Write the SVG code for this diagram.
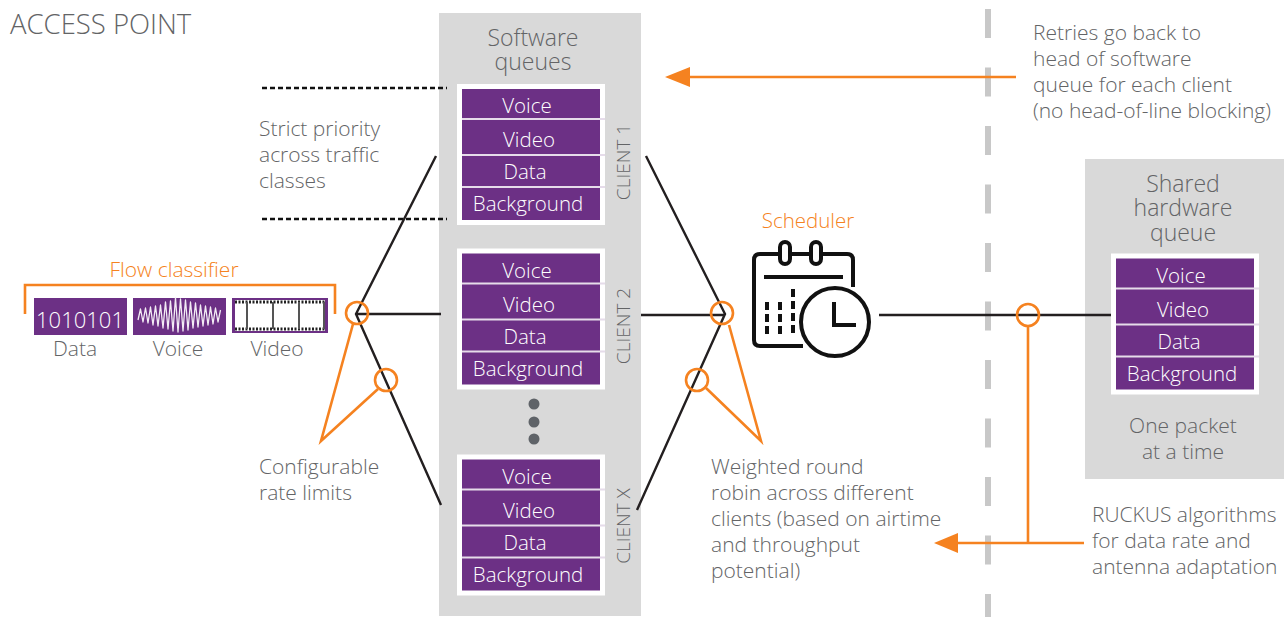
<svg xmlns="http://www.w3.org/2000/svg" width="1284" height="617" viewBox="0 0 1284 617">
<style>
text{font-family:"Open Sans","Noto Sans","Liberation Sans",sans-serif;font-weight:300;font-size:21px;fill:#636466}
.m{text-anchor:middle}
.w{fill:#fff}
.o{fill:#f58220}
.panel{fill:#d9d9d9}
.purple{fill:#6c3085}
.div{stroke:#e6dcea;stroke-width:2}
.blk{stroke:#231f20;stroke-width:2.4;fill:none}
.org{stroke:#f58220;stroke-width:2.6;fill:none}
.ico{stroke:#111;stroke-width:4;fill:none}
.h{font-size:23px}
.c{font-size:19px}
.s{font-size:20.5px}
</style>
<defs>
<g id="stack">
<rect x="0" y="0" width="148" height="141" fill="#fff"/>
<rect x="5" y="5" width="138" height="131" class="purple"/>
<path class="div" d="M5 35H148M5 71H148M5 103H148"/>
<text class="m w s" x="70" y="29">Voice</text>
<text class="m w s" x="72" y="63">Video</text>
<text class="m w s" x="68" y="95">Data</text>
<text class="m w s" x="71" y="127">Background</text>
</g>
</defs>
<text x="10" y="34" style="font-size:27.5px">ACCESS POINT</text>
<g id="software-queues">
<rect class="panel" x="439" y="13" width="202" height="603"/>
<text class="m h" x="533" y="46">Software</text>
<text class="m h" x="533" y="70">queues</text>
</g>
<g id="client-1"><use href="#stack" x="457" y="84"/><text class="m c" transform="translate(630 162) rotate(-90)">CLIENT 1</text></g>
<g id="client-2"><use href="#stack" x="457" y="248.5"/><text class="m c" transform="translate(630 326) rotate(-90)">CLIENT 2</text></g>
<g id="client-x"><use href="#stack" x="457" y="454.5"/><text class="m c" transform="translate(630 526) rotate(-90)">CLIENT X</text></g>
<g id="dots" fill="#5f6368"><circle cx="534" cy="404" r="5.500"/><circle cx="534" cy="422" r="5.500"/><circle cx="534" cy="439" r="5.500"/></g>
<g id="shared-hardware-queue">
<rect class="panel" x="1085" y="159" width="199" height="320"/>
<text class="m h" x="1183" y="192">Shared</text>
<text class="m h" x="1183" y="216">hardware</text>
<text class="m h" x="1183" y="241">queue</text>
<use href="#stack" x="1111" y="253.5"/>
<text class="m" x="1183" y="433">One packet</text>
<text class="m" x="1183" y="459">at a time</text>
</g>
<g id="flow-classifier">
<text class="m o" x="174" y="277">Flow classifier</text>
<path class="org" d="M25 314V285H335V314"/>
<rect class="purple" x="34" y="298" width="93" height="37"/>
<text class="m w" x="80" y="328" style="font-size:22px">1010101</text>
<text class="m" x="75" y="356">Data</text>
<rect class="purple" x="133" y="298" width="93" height="37"/>
<polyline fill="none" stroke="#f3ecf5" stroke-width="1.300" stroke-linejoin="round" points="138,320 140.500,309 143,322 145.500,308 148,323 150.500,307 153,325 155.500,306 158,326 160.500,305 163,328 165.500,302 168,329 170.500,301 173,331 175.500,298 178,332 180.500,299 183,331 185.500,300 188,330 190.500,302 193,328 195.500,303 198,327 200.500,305 203,326 205.500,306 208,325 210.500,307 213,324 215.500,308 218,322 220.500,310"/>
<text class="m" x="178" y="356">Voice</text>
<rect class="purple" x="232" y="298" width="96" height="35"/>
<rect x="235" y="300" width="90" height="31" fill="#fff"/>
<path stroke="#222" stroke-width="3" stroke-dasharray="2 1.500" d="M235 302H325M235 329H325" fill="none"/>
<path stroke="#555" stroke-width="2" d="M247 302V329M273 302V329M299 302V329M324 302V329" fill="none"/>
<text class="m" x="277" y="356">Video</text>
</g>
<g id="scheduler">
<text class="m o s" x="808" y="228">Scheduler</text>
<path class="ico" d="M803 346H760Q754 346 754 340V260Q754 254 760 254H779M791 254H810M822 254H847Q853 254 853 260V287"/>
<rect class="ico" x="780" y="242" width="10" height="22" rx="5"/>
<rect class="ico" x="811" y="242" width="10" height="22" rx="5"/>
<path class="ico" d="M764 277H843"/>
<path class="ico" d="M767 302V337M780 302V337M793 289V337" stroke-dasharray="8 4"/>
<circle class="ico" cx="835" cy="322" r="34"/>
<path class="ico" d="M834 302V325H856"/>
</g>
<g id="connectors">
<path d="M988 9V617" stroke="#c8c8c8" stroke-width="6" stroke-dasharray="29 29.500" fill="none"/>
<path d="M262 88H447M262 219H447" stroke="#111" stroke-width="2.400" stroke-dasharray="5 3" fill="none"/>
<path class="blk" d="M436 156L356 314L441 505M356 314H441"/>
<path class="blk" d="M646 156L725 314L637 510M641 315H725"/>
<path class="blk" d="M879 315H1111"/>
<circle class="org" cx="357" cy="313" r="11"/>
<circle class="org" cx="386" cy="380" r="11"/>
<circle class="org" cx="722" cy="313" r="11"/>
<circle class="org" cx="697" cy="380" r="11"/>
<circle class="org" cx="1028" cy="315" r="11"/>
<path class="org" d="M353 324L321 441L378 389"/>
<path class="org" d="M729 325L761 441L706 388"/>
<path class="org" d="M1028 327V543M1084 543H950"/>
<path class="org" d="M1016 77H685"/>
<polygon class="o" points="665,77 690,67 690,87"/>
<polygon class="o" points="934,543 958,533 958,553"/>
</g>
<g id="labels">
<text x="259" y="136">Strict priority</text>
<text x="259" y="162">across traffic</text>
<text x="259" y="188">classes</text>
<text x="259" y="474">Configurable</text>
<text x="259" y="500">rate limits</text>
<text x="711" y="474">Weighted round</text>
<text x="711" y="500">robin across different</text>
<text x="711" y="526">clients (based on airtime</text>
<text x="711" y="552">and throughput</text>
<text x="711" y="578">potential)</text>
<text x="1033" y="40">Retries go back to</text>
<text x="1033" y="66">head of software</text>
<text x="1033" y="92">queue for each client</text>
<text x="1033" y="118">(no head-of-line blocking)</text>
<text x="1092" y="522">RUCKUS algorithms</text>
<text x="1092" y="548">for data rate and</text>
<text x="1092" y="574">antenna adaptation</text>
</g>
</svg>
